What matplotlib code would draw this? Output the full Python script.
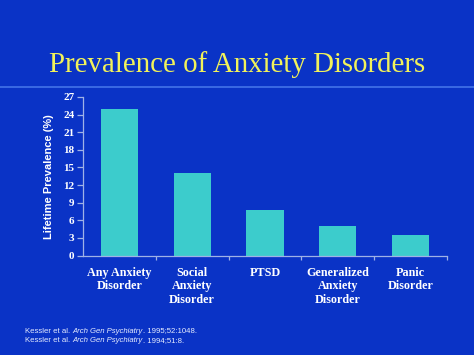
import matplotlib
matplotlib.use("Agg")
import matplotlib.pyplot as plt
from matplotlib.lines import Line2D

categories = ["Any Anxiety\nDisorder", "Social\nAnxiety\nDisorder", "PTSD",
              "Generalized\nAnxiety\nDisorder", "Panic\nDisorder"]
values = [25.0, 14.0, 7.8, 5.1, 3.5]
yticks = [0, 3, 6, 9, 12, 15, 18, 21, 24, 27]

BG = "#0a33c6"
BAR = "#3ccccc"
AX = "#9fb2e6"

fig = plt.figure(figsize=(4.74, 3.55), dpi=100, facecolor=BG)
fig.text(0.5, 0.817, "Prevalence of Anxiety Disorders", ha="center", va="center",
         color="#f2f25a", fontsize=20.8, family="Liberation Serif")
fig.add_artist(Line2D([0, 1], [0.756, 0.756], color="#3f6ee6", lw=1.3,
                      transform=fig.transFigure))

ax = fig.add_axes([0.175, 0.280, 0.768, 0.447])
ax.set_facecolor(BG)
x = list(range(len(values)))
ax.bar(x, values, width=0.51, color=BAR, edgecolor="none")
ax.set_xlim(-0.5, len(values) - 0.5)
ax.set_ylim(0, 27)
for s in ["top", "right"]:
    ax.spines[s].set_visible(False)
for s in ["left", "bottom"]:
    ax.spines[s].set_color(AX)
    ax.spines[s].set_linewidth(0.9)

ax.set_yticks(yticks)
ax.set_yticklabels([str(t) for t in yticks], family="Liberation Serif",
                   fontweight="bold", fontsize=8, color="white")
ax.tick_params(axis="y", colors=AX, length=4, width=0.9, pad=2, labelcolor="white")

ax.set_xticks([i + 0.5 for i in x])
ax.set_xticklabels([])
ax.tick_params(axis="x", which="major", colors=AX, width=0.9, direction="out", length=3)
ax.set_xticks(x, minor=True)
ax.set_xticklabels(categories, minor=True, family="Liberation Serif",
                   fontweight="bold", fontsize=8.7, color="white", linespacing=1.17)
ax.tick_params(axis="x", which="minor", length=0, pad=8)

ax.set_ylabel("Lifetime Prevalence (%)", family="Liberation Sans", fontweight="bold",
              fontsize=8, color="white", labelpad=7)

ref_y = [0.0676, 0.042]
refs = [("Arch Gen Psychiatry", ". 1995;52:1048."), ("Arch Gen Psychiatry", ". 1994;51:8.")]
fs = 5.6
for yy, (j, rest) in zip(ref_y, refs):
    t1 = fig.text(0.053, yy, "Kessler et al. ", color="#e6ecff", fontsize=fs,
                  family="Liberation Sans", va="center")
    fig.canvas.draw()
    x1 = t1.get_window_extent().x1 / fig.bbox.width
    t2 = fig.text(x1, yy, j, color="#e6ecff", fontsize=fs, style="italic",
                  family="Liberation Sans", va="center")
    fig.canvas.draw()
    x2 = t2.get_window_extent().x1 / fig.bbox.width
    fig.text(x2, yy, rest, color="#e6ecff", fontsize=fs,
             family="Liberation Sans", va="center")

fig.savefig("out.png", dpi=100, facecolor=BG)
